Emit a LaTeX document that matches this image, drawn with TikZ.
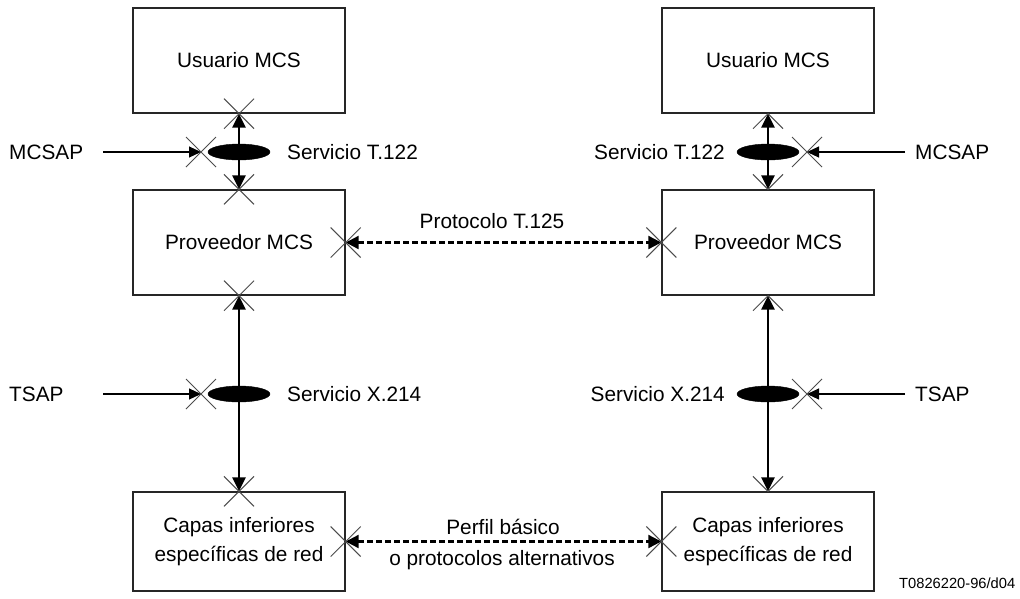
\documentclass[tikz,border=0pt]{standalone}
\usepackage{fontspec}
\setmainfont{Liberation Sans}
\usetikzlibrary{arrows.meta,shapes.geometric}

\newcommand{\lblfont}{\fontsize{20.8}{29}\selectfont}

\tikzset{
  layer/.style={draw=black!85, line width=1.4pt, minimum width=212pt,
    minimum height=105pt, inner sep=0pt, align=center, font=\lblfont},
  lowlayer/.style={layer, minimum height=99pt},
  txt/.style={inner sep=0pt, font=\lblfont},
  sap/.style={draw=black, fill=black, ellipse, minimum width=62pt,
    minimum height=16pt, inner sep=0pt},
  service/.style={line width=2.8pt, {Triangle[length=14pt,width=13pt]}-{Triangle[length=14pt,width=13pt]}},
  access/.style={line width=1.1pt, -{Triangle[length=12pt,width=11pt]}},
  peer/.style={line width=2.2pt, dash pattern=on 6pt off 3pt,
    {Triangle[length=13pt,width=13pt]}-{Triangle[length=13pt,width=13pt]}},
  crossline/.style={line width=1pt, draw=black!70},
  xcross/.pic={\draw[crossline] (-15,-15) -- (15,15) (-15,15) -- (15,-15);},
  halfbelow/.pic={\draw[crossline] (-15,15) -- (0,0) -- (15,15);},
  halfabove/.pic={\draw[crossline] (-15,-15) -- (0,0) -- (15,-15);}
}

\begin{document}
\begin{tikzpicture}[x=1pt,y=-1pt]
\useasboundingbox[fill=white] (0,0) rectangle (1020,598);

% layer boxes
\node[layer]    (userL) at (239,60.5)  {Usuario MCS};
\node[layer]    (provL) at (239,242.5) {Proveedor MCS};
\node[lowlayer] (lowL)  at (239,541.5) {Capas inferiores\\específicas de red};
\node[layer]    (userR) at (768,60.5)  {Usuario MCS};
\node[layer]    (provR) at (768,242.5) {Proveedor MCS};
\node[lowlayer] (lowR)  at (768,541.5) {Capas inferiores\\específicas de red};

% service access points
\node[sap] (sapTL) at (239,152) {};
\node[sap] (sapXL) at (239,394) {};
\node[sap] (sapTR) at (768,152) {};
\node[sap] (sapXR) at (768,394) {};

% labels
\node[txt, anchor=west] (mcsapL) at (9,152)   {MCSAP};
\node[txt, anchor=west] (tsapL)  at (9,394)   {TSAP};
\node[txt, anchor=west] (mcsapR) at (915,152) {MCSAP};
\node[txt, anchor=west] (tsapR)  at (915,394) {TSAP};
\node[txt, anchor=west] (servTL) at (287,152) {Servicio T.122};
\node[txt, anchor=west] (servXL) at (287,394) {Servicio X.214};
\node[txt, anchor=east] (servTR) at (725,152) {Servicio T.122};
\node[txt, anchor=east] (servXR) at (725,394) {Servicio X.214};
\node[txt] (proto) at (492,221) {Protocolo T.125};
\node[txt] (perf1) at (503,527) {Perfil básico};
\node[txt] (perf2) at (502,560) {o protocolos alternativos};
\node[inner sep=0pt, anchor=west, font=\fontsize{14.7}{17}\selectfont] (ref) at (899,583) {T0826220-96/d04};

% access point markers
\coordinate (apTL) at (201,152);
\coordinate (apXL) at (201,394);
\coordinate (apTR) at (807,152);
\coordinate (apXR) at (807,394);
\coordinate (inTL) at (103,152);
\coordinate (inXL) at (103,394);
\coordinate (inTR) at (905,152);
\coordinate (inXR) at (905,394);

% service primitives between layers
\draw[service] (userL.south) -- (provL.north);
\draw[service] (provL.south) -- (lowL.north);
\draw[service] (userR.south) -- (provR.north);
\draw[service] (provR.south) -- (lowR.north);

% access arrows
\draw[access] (inTL) -- (apTL);
\draw[access] (inXL) -- (apXL);
\draw[access] (inTR) -- (apTR);
\draw[access] (inXR) -- (apXR);

% peer protocols
\draw[peer] (provL.east) -- (provR.west);
\draw[peer] (lowL.east) -- (lowR.west);

% interface crossings
\pic at (userL.south) {xcross};
\pic at (provL.north) {xcross};
\pic at (provL.south) {xcross};
\pic at (lowL.north)  {xcross};
\pic at (apTL) {xcross};
\pic at (apXL) {xcross};
\pic at (apTR) {xcross};
\pic at (apXR) {xcross};
\pic at (provL.east) {xcross};
\pic at (provR.west) {xcross};
\pic at (lowL.east)  {xcross};
\pic at (lowR.west)  {xcross};
\pic at (userR.south) {halfbelow};
\pic at (provR.north) {halfabove};
\pic at (provR.south) {halfbelow};
\pic at (lowR.north)  {halfabove};
\end{tikzpicture}
\end{document}
